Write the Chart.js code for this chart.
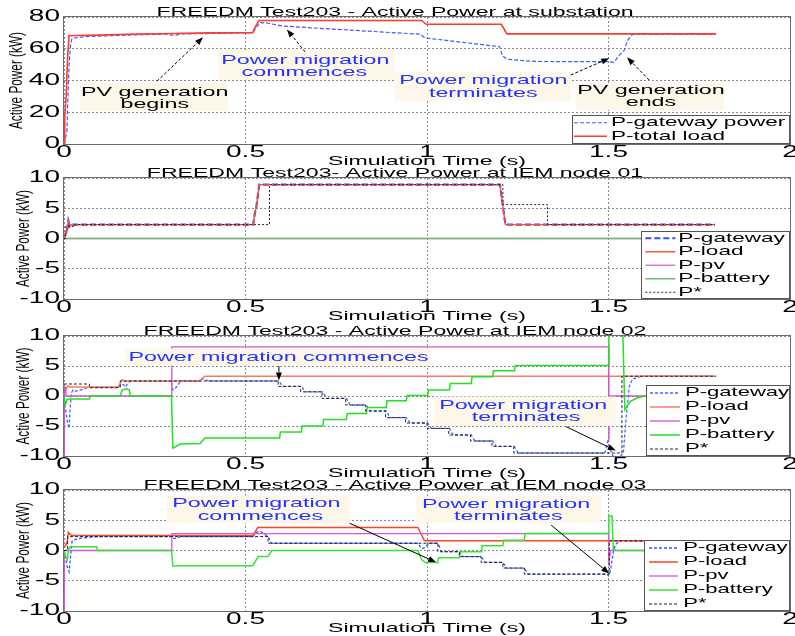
<!DOCTYPE html>
<html>
<head>
<meta charset="utf-8">
<script src="https://cdn.jsdelivr.net/npm/chart.js@4.4.1/dist/chart.umd.min.js"></script>
<style>
html, body { margin: 0; padding: 0; background: #fff; width: 795px; height: 636px; overflow: hidden; }
body { position: relative; }
canvas { position: absolute; left: 0; }
</style>
</head>
<body>
<canvas id="c1"></canvas>
<canvas id="c2"></canvas>
<canvas id="c3"></canvas>
<canvas id="c4"></canvas>
<script>
// ---------------- Labels ----------------
const panelTitles = [
  'FREEDM Test203 - Active Power at substation',
  'FREEDM Test203- Active Power at IEM node 01',
  'FREEDM Test203 - Active Power at IEM node 02',
  'FREEDM Test203 - Active Power at IEM node 03'
];
const xAxisTitle = 'Simulation Time (s)';
const yAxisTitle = 'Active Power (kW)';
const xTickLabels = ['0', '0.5', '1', '1.5', '2'];
const subYTickLabels = ['0', '20', '40', '60', '80'];
const nodeYTickLabels = ['-10', '-5', '0', '5', '10'];
const subSeriesNames = ['P-gateway power', 'P-total load'];
const nodeSeriesNames = ['P-gateway', 'P-load', 'P-pv', 'P-battery', 'P*'];

// ---------------- Substation (kW) ----------------
const subGatewayT = [0, 0.004, 0.008, 0.011, 0.014, 0.018, 0.022, 0.05, 0.1, 0.2, 0.28, 0.305, 0.32, 0.4, 0.5, 0.52, 0.54, 0.56, 0.6, 0.7, 0.8, 0.9, 0.98, 0.995, 1.1, 1.2, 1.208, 1.222, 1.26, 1.3, 1.4, 1.5, 1.515, 1.53, 1.543, 1.553, 1.567, 1.796];
const subGateway  = [0, 3, 8, 30, 50, 62, 66.5, 67.5, 68, 68.8, 69.2, 68.3, 69.3, 69.6, 70.0, 70.2, 76.5, 76.2, 74.4, 72.9, 71.6, 70.2, 69.2, 66.8, 64.0, 61.3, 55.5, 53.4, 52.6, 52.0, 51.9, 51.9, 51.5, 56, 59, 65.5, 69.2, 69.2];
const subLoadT = [0, 0.002, 0.006, 0.010, 0.014, 0.03, 0.1, 0.15, 0.2, 0.3, 0.4, 0.52, 0.524, 0.537, 0.985, 0.998, 1.205, 1.22, 1.796];
const subLoad  = [0, 17, 30, 55, 68.2, 68.3, 68.6, 69.0, 69.2, 69.6, 70.0, 70.1, 72.5, 77.8, 77.8, 75.4, 75.4, 69.4, 69.4];

// ---------------- IEM node 01 (kW) ----------------
const n1GatewayT = [0, 0.004, 0.008, 0.012, 0.016, 0.022, 0.521, 0.526, 0.530, 0.538, 1.201, 1.216, 1.793];
const n1Gateway  = [0, 0.8, 1.1, 2.9, 2.0, 2.3, 2.3, 4.2, 5.3, 8.9, 8.9, 2.3, 2.3];
const n1LoadT = [0, 0.003, 0.008, 0.012, 0.017, 0.022, 0.521, 0.526, 0.530, 0.538, 1.201, 1.216, 1.793];
const n1Load  = [0, 0.9, 1.0, 2.9, 2.1, 2.3, 2.3, 4.2, 5.3, 8.9, 8.9, 2.3, 2.3];
const n1PvT = [0, 1.8];
const n1Pv  = [0, 0];
const n1BatteryT = [0, 1.8];
const n1Battery  = [0, 0];
const n1RefT = [0, 0.005, 0.03, 0.566, 1.209, 1.332, 1.793];
const n1Ref  = [0, 2.0, 2.3, 8.9, 5.6, 2.3, 2.3];

// ---------------- IEM node 02 (kW) ----------------
const n2GatewayT = [0, 0.005, 0.01, 0.014, 0.017, 0.02, 0.025, 0.03, 0.045, 0.06, 0.07, 0.15, 0.156, 0.163, 0.17, 0.176, 0.185, 0.296, 0.3, 0.31, 0.318, 0.325, 0.37, 0.38, 0.39, 0.4,
  0.592, 0.602, 0.654, 0.664, 0.713, 0.723, 0.778, 0.788, 0.833, 0.843, 0.888, 0.898, 0.943, 0.953, 1.002, 1.012, 1.062, 1.072, 1.122, 1.132, 1.181, 1.191, 1.241, 1.251,
  1.49, 1.498, 1.505, 1.512, 1.53, 1.541, 1.548, 1.557, 1.566, 1.585, 1.6, 1.79];
const n2Gateway  = [-1.5, -2.5, -4.5, -5.4, -2, 0.5, 1.0, 0.8, 1.0, 1.3, 1.4, 1.4, 2.0, 1.9, 1.5, 2.2, 2.5, 2.5, 1.0, 1.5, 2.2, 2.5, 2.5, 2.9, 2.7, 2.5,
  2.5, 1.6, 1.6, 0.7, 0.7, -0.4, -0.4, -1.5, -1.5, -2.5, -2.5, -3.6, -3.6, -4.5, -4.5, -5.4, -5.4, -6.5, -6.5, -7.5, -7.5, -8.4, -8.4, -9.5,
  -9.5, -7.6, -8.9, -10, -10.2, -9.5, -4.0, 1.5, 2.8, 3.2, 3.3, 3.3];
const n2LoadT = [0, 0.004, 0.011, 0.016, 0.15, 0.156, 0.16, 0.166, 0.372, 0.388, 1.796];
const n2Load  = [0.1, 0.9, 1.7, 1.5, 1.5, 2.3, 2.7, 2.5, 2.5, 3.3, 3.3];
const n2PvT = [0, 0.001, 0.004, 0.006, 0.296, 0.297, 1.5, 1.501, 1.503, 1.8];
const n2Pv  = [-10, 1.5, 1.5, 0, 0, 8.2, 8.2, -7.6, 0, 0];
const n2BatteryT = [0, 0.004, 0.008, 0.014, 0.07, 0.072, 0.155, 0.16, 0.172, 0.18, 0.182, 0.296, 0.3, 0.32, 0.375, 0.388,
  0.594, 0.596, 0.654, 0.656, 0.713, 0.715, 0.778, 0.78, 0.833, 0.835, 0.888, 0.89, 0.943, 0.945, 1.002, 1.004, 1.062, 1.064, 1.122, 1.124, 1.181, 1.183, 1.241, 1.243,
  1.5, 1.501, 1.538, 1.545, 1.56, 1.58, 1.6, 1.8];
const n2Battery  = [0, -1.5, -0.6, -0.5, -0.5, 0, 0, 1.0, 1.2, 1.0, 0, 0, -8.7, -8.0, -7.9, -7.0,
  -7.0, -6.0, -6.0, -5.0, -5.0, -3.9, -3.9, -2.9, -2.9, -1.9, -1.9, -0.8, -0.8, 0.1, 0.1, 1.0, 1.0, 2.1, 2.1, 3.2, 3.2, 4.2, 4.2, 5.1,
  5.1, 14, 14, -2.3, -0.9, -0.3, 0, 0];
const n2RefT = [0, 0.07, 0.155, 0.59, 0.652, 0.711, 0.776, 0.831, 0.886, 0.941, 1.0, 1.06, 1.12, 1.179, 1.239, 1.537, 1.796];
const n2Ref  = [2.0, 1.4, 2.5, 1.6, 0.7, -0.4, -1.5, -2.5, -3.6, -4.5, -5.4, -6.5, -7.5, -8.4, -9.5, 3.3, 3.3];

// ---------------- IEM node 03 (kW) ----------------
const n3GatewayT = [0, 0.004, 0.008, 0.014, 0.018, 0.022, 0.03, 0.044, 0.07, 0.1, 0.296, 0.3, 0.31, 0.32, 0.52, 0.53, 0.54, 0.55, 0.562, 0.572,
  0.975, 0.985, 0.995, 1.005, 1.03, 1.04, 1.089, 1.099, 1.149, 1.159, 1.209, 1.219, 1.268, 1.278, 1.495, 1.5, 1.505, 1.51, 1.515, 1.52, 1.53, 1.79];
const n3Gateway  = [0, -1, -2.5, -3.5, -1, 1.5, 1.8, 2.0, 2.2, 2.3, 2.3, 2.0, 2.0, 2.3, 2.3, 3.0, 3.2, 2.8, 2.3, 1.2,
  1.2, 0.3, 0.5, 1.2, 1.2, -0.2, -0.2, -1.0, -1.0, -1.95, -1.95, -2.9, -2.9, -3.9, -3.9, -4.2, -3.5, -1.5, 0.3, 1.0, 1.6, 1.6];
const n3LoadT = [0, 0.005, 0.009, 0.012, 0.018, 0.025, 0.52, 0.534, 0.975, 0.993, 1.796];
const n3Load  = [0.5, 0.9, 1.5, 3.0, 2.6, 2.5, 2.5, 3.8, 3.8, 1.6, 1.6];
const n3PvT = [0, 0.001, 0.296, 0.297, 1.5, 1.501, 1.505, 1.8];
const n3Pv  = [-10, 0, 0, 2.8, 2.8, -2.4, 0, 0];
const n3BatteryT = [0, 0.005, 0.009, 0.013, 0.017, 0.09, 0.092, 0.296, 0.3, 0.31, 0.52, 0.535, 0.545, 0.562, 0.572,
  0.975, 0.985, 0.995, 1.03, 1.032, 1.089, 1.091, 1.149, 1.151, 1.209, 1.211, 1.268, 1.27, 1.5, 1.501, 1.51, 1.513, 1.52, 1.8];
const n3Battery  = [0, -1.0, -1.5, 0.2, 0.6, 0.6, 0, 0, -2.6, -2.5, -2.5, -1.0, -1.0, -1.0, 0,
  0, -1.5, -2.0, -2.0, -1.2, -1.2, -0.2, -0.2, 0.8, 0.8, 1.7, 1.7, 2.8, 2.8, 5.7, 5.7, 0.2, 0, 0];
const n3RefT = [0, 0.01, 0.562, 1.03, 1.089, 1.149, 1.209, 1.268, 1.502, 1.796];
const n3Ref  = [0, 2.3, 1.2, -0.2, -1.0, -1.95, -2.9, -3.9, 1.6, 1.6];

// ---------------- Rendering setup ----------------
const FONT = '"Liberation Sans", Arial, Helvetica, sans-serif';
const SX = 1.75;          // horizontal stretch of the original figure's lettering
const SX_ROT = 1.5;       // stretch applied to rotated (vertical) lettering
const TITLE_SIZE = 13.2;
const TITLE_PB = -2.2;
const TITLE_H = TITLE_SIZE + TITLE_PB;
const XAXIS_H = 24;

function stretchCtx(ctx) {
  if (ctx.__stretched) return;
  const orig = ctx.fillText;
  ctx.fillText = function (text, x, y, maxWidth) {
    const M = ctx.getTransform();
    const call = () => (maxWidth === undefined ? orig.call(ctx, text, x, y) : orig.call(ctx, text, x, y, maxWidth));
    const rotated = Math.abs(M.b) > 1e-6 || Math.abs(M.c) > 1e-6;
    const k = rotated ? SX_ROT : SX;
    const px = M.a * x + M.c * y + M.e;
    const py = M.b * x + M.d * y + M.f;
    const S = new DOMMatrix().translate(px, py).scale(k, 1).translate(-px, -py);
    ctx.setTransform(S.multiply(M));
    call();
    ctx.setTransform(M);
  };
  ctx.__stretched = true;
}

function zip(ts, vs) { return ts.map((t, i) => ({ x: t, y: vs[i] })); }

function drawArrow(ctx, x0, y0, x1, y1, dashed) {
  ctx.save();
  ctx.strokeStyle = '#000'; ctx.fillStyle = '#000'; ctx.lineWidth = 1;
  const ang = Math.atan2(y1 - y0, x1 - x0);
  const hl = 8, hw = 3;
  const bx = x1 - hl * Math.cos(ang), by = y1 - hl * Math.sin(ang);
  if (dashed) ctx.setLineDash([3, 2]);
  ctx.beginPath(); ctx.moveTo(x0, y0); ctx.lineTo(bx, by); ctx.stroke();
  ctx.setLineDash([]);
  ctx.beginPath();
  ctx.moveTo(x1, y1);
  ctx.lineTo(bx + hw * Math.sin(ang), by - hw * Math.cos(ang));
  ctx.lineTo(bx - hw * Math.sin(ang), by + hw * Math.cos(ang));
  ctx.closePath(); ctx.fill();
  ctx.restore();
}

function panelPlugin(P) {
  return {
    id: 'panel',
    beforeInit(chart) { stretchCtx(chart.ctx); },
    beforeDatasetsDraw(chart) {
      const { ctx, chartArea: a } = chart;
      ctx.save();
      ctx.strokeStyle = '#6b6b6b'; ctx.lineWidth = 1;
      const l = Math.round(a.left) - 0.5, t = Math.round(a.top) - 0.5;
      ctx.strokeRect(l, t, Math.round(a.right) - Math.round(a.left) + 1, Math.round(a.bottom) - Math.round(a.top) + 1);
      ctx.restore();
    },
    afterDatasetsDraw(chart) {
      const { ctx, chartArea: a } = chart;
      const xs = chart.scales.x, ys = chart.scales.y;
      const X = v => xs.getPixelForValue(v), Y = v => ys.getPixelForValue(v);
      ctx.save();
      // annotations
      (P.notes || []).forEach(n => {
        ctx.fillStyle = '#fdf7ea';
        const bx0 = X(n.box[0]), by0 = Y(n.box[3]), bx1 = X(n.box[2]), by1 = Y(n.box[1]);
        ctx.fillRect(bx0, by0, bx1 - bx0, by1 - by0);
      });
      (P.notes || []).forEach(n => {
        ctx.font = '13.3px ' + FONT;
        ctx.fillStyle = n.color;
        ctx.textAlign = 'center';
        ctx.textBaseline = 'middle';
        n.lines.forEach(ln => ctx.fillText(ln[0], X(ln[1]), Y(ln[2])));
        drawArrow(ctx, X(n.arrow[0]), Y(n.arrow[1]), X(n.arrow[2]), Y(n.arrow[3]), n.dashed);
      });
      // legend
      const L = P.legend;
      const x0 = Math.round(a.right - L.w), y0 = Math.round(a.bottom - L.h);
      ctx.fillStyle = '#fff';
      ctx.fillRect(x0, y0, L.w, L.h);
      ctx.strokeStyle = '#555'; ctx.lineWidth = 1;
      ctx.strokeRect(x0 + 0.5, y0 + 0.5, L.w - 1, L.h - 1);
      chart.data.datasets.forEach((ds, i) => {
        const y = y0 + L.pad + L.rowH * (i + 0.5);
        ctx.strokeStyle = ds.borderColor; ctx.lineWidth = ds.borderWidth;
        ctx.setLineDash(ds.borderDash || []);
        ctx.beginPath(); ctx.moveTo(x0 + L.lx0, y); ctx.lineTo(x0 + L.lx1, y); ctx.stroke();
        ctx.setLineDash([]);
        ctx.fillStyle = '#000';
        ctx.font = L.font + 'px ' + FONT;
        ctx.textAlign = 'left'; ctx.textBaseline = 'middle';
        ctx.fillText(ds.label, x0 + L.tx, y);
      });
      ctx.restore();
    }
  };
}

function buildChart(id, P) {
  const cv = document.getElementById(id);
  const top = P.plotTop - TITLE_H;
  const h = P.plotBottom + XAXIS_H - top;
  cv.width = 795; cv.height = Math.round(h);
  cv.style.top = top + 'px';
  cv.style.width = '795px'; cv.style.height = Math.round(h) + 'px';
  const gridOpts = { color: '#8a8a8a', lineWidth: 1, drawTicks: false };
  const borderOpts = { display: false, dash: [2, 2] };
  return new Chart(cv, {
    type: 'line',
    data: {
      datasets: P.series.map((s, i) => ({
        label: s.name, data: zip(s.t, s.v),
        borderColor: s.color, borderWidth: s.width, borderDash: s.dash || [],
        stepped: s.stepped || false, pointRadius: 0, fill: false, tension: 0,
        order: -i, clip: { left: 2, top: 0, right: 0, bottom: 1 }
      }))
    },
    options: {
      responsive: false, animation: false, devicePixelRatio: 1, events: [],
      layout: { padding: { left: 0, right: 5, top: 0, bottom: 0 }, autoPadding: false },
      plugins: {
        legend: { display: false }, tooltip: { enabled: false },
        title: { display: true, text: P.title, color: '#000',
          font: { family: FONT, size: TITLE_SIZE, lineHeight: 1, weight: 'normal' },
          padding: { top: 0, bottom: TITLE_PB } }
      },
      scales: {
        x: {
          type: 'linear', min: 0, max: 2,
          afterFit: s => { s.height = XAXIS_H; s.paddingLeft = 0; s.paddingRight = 0; s.paddingTop = 0; s.paddingBottom = 0; },
          ticks: { stepSize: 0.5, autoSkip: false, maxRotation: 0, minRotation: 0, padding: 1, color: '#000',
            font: { family: FONT, size: 16, lineHeight: 1 }, callback: (v, i) => xTickLabels[i] },
          grid: gridOpts, border: borderOpts,
          title: { display: true, text: xAxisTitle, color: '#000', font: { family: FONT, size: 13.2, lineHeight: 1 }, padding: 0 }
        },
        y: {
          type: 'linear', min: P.yMin, max: P.yMax,
          afterFit: s => { s.width = 64; s.paddingTop = 0; s.paddingBottom = 0; s.paddingLeft = 0; s.paddingRight = 0; },
          ticks: { stepSize: P.yStep, autoSkip: false, padding: 4, color: '#000',
            font: { family: FONT, size: 16, lineHeight: 1 }, callback: (v, i) => P.yTicks[i] },
          grid: gridOpts, border: borderOpts,
          title: { display: true, text: yAxisTitle, color: '#000', font: { family: FONT, size: 11.8, lineHeight: 1 },
            padding: { top: P.yTitleOffset, bottom: 0 } }
        }
      }
    },
    plugins: [panelPlugin(P)]
  });
}

// ---------------- Panels ----------------
buildChart('c1', {
  title: panelTitles[0], plotTop: 17, plotBottom: 144, yMin: 0, yMax: 80, yStep: 20, yTicks: subYTickLabels, yTitleOffset: 11.5,
  series: [
    { name: subSeriesNames[0], t: subGatewayT, v: subGateway, color: '#3d5cff', width: 1.2, dash: [4, 2] },
    { name: subSeriesNames[1], t: subLoadT, v: subLoad, color: '#ff3b2e', width: 1.6 }
  ],
  legend: { w: 218, h: 29, pad: 1, rowH: 13.5, lx0: 2, lx1: 35, tx: 39, font: 12.9 },
  notes: [
    { box: [0.044, 20.8, 0.451, 38.4], lines: [['PV generation', 0.25, 32.8], ['begins', 0.25, 25.2]], color: '#000', arrow: [0.256, 39.5, 0.383, 67.2], dashed: true },
    { box: [0.424, 40.3, 0.911, 59.2], lines: [['Power migration', 0.665, 52.9], ['commences', 0.662, 45.4]], color: '#2233ff', arrow: [0.664, 58.1, 0.614, 72.2], dashed: true },
    { box: [0.911, 27.1, 1.397, 45.4], lines: [['Power migration', 1.155, 40.3], ['terminates', 1.155, 32.1]], color: '#2233ff', arrow: [1.396, 43.5, 1.502, 54.0], dashed: true },
    { box: [1.411, 21.4, 1.818, 38.4], lines: [['PV generation', 1.617, 34.0], ['ends', 1.617, 26.1]], color: '#000', arrow: [1.612, 40.3, 1.551, 54.6], dashed: true }
  ]
});

buildChart('c2', {
  title: panelTitles[1], plotTop: 178, plotBottom: 299, yMin: -10, yMax: 10, yStep: 5, yTicks: nodeYTickLabels, yTitleOffset: 18,
  series: [
    { name: nodeSeriesNames[0], t: n1GatewayT, v: n1Gateway, color: '#3050f0', width: 2.2, dash: [6, 3] },
    { name: nodeSeriesNames[1], t: n1LoadT, v: n1Load, color: '#ff4a30', width: 1.4 },
    { name: nodeSeriesNames[2], t: n1PvT, v: n1Pv, color: '#e070e0', width: 1.4 },
    { name: nodeSeriesNames[3], t: n1BatteryT, v: n1Battery, color: '#70c070', width: 1.6 },
    { name: nodeSeriesNames[4], t: n1RefT, v: n1Ref, color: '#222', width: 1, dash: [2, 2], stepped: true }
  ],
  legend: { w: 149, h: 68, pad: 0.5, rowH: 13.5, lx0: 4.3, lx1: 34.3, tx: 37.3, font: 12.9 }
});

buildChart('c3', {
  title: panelTitles[2], plotTop: 336, plotBottom: 456, yMin: -10, yMax: 10, yStep: 5, yTicks: nodeYTickLabels, yTitleOffset: 18,
  series: [
    { name: nodeSeriesNames[0], t: n2GatewayT, v: n2Gateway, color: '#4466ff', width: 1.3, dash: [3, 2] },
    { name: nodeSeriesNames[1], t: n2LoadT, v: n2Load, color: '#ff7a66', width: 1.5 },
    { name: nodeSeriesNames[2], t: n2PvT, v: n2Pv, color: '#cc55cc', width: 1.3 },
    { name: nodeSeriesNames[3], t: n2BatteryT, v: n2Battery, color: '#22e022', width: 1.5 },
    { name: nodeSeriesNames[4], t: n2RefT, v: n2Ref, color: '#222', width: 1, dash: [3, 2], stepped: true }
  ],
  legend: { w: 144, h: 71, pad: 1, rowH: 14, lx0: 4, lx1: 34, tx: 39, font: 12.6 },
  notes: [
    { box: [0.168, 5.1, 1.012, 7.9], lines: [['Power migration commences', 0.591, 6.4]], color: '#2233ff', arrow: [0.592, 5.0, 0.592, 2.6], dashed: false },
    { box: [1.020, -5.0, 1.520, -0.1], lines: [['Power migration', 1.265, -1.5], ['terminates', 1.273, -3.6]], color: '#2233ff', arrow: [1.383, -5.1, 1.520, -9.1], dashed: false }
  ]
});

buildChart('c4', {
  title: panelTitles[3], plotTop: 490, plotBottom: 611, yMin: -10, yMax: 10, yStep: 5, yTicks: nodeYTickLabels, yTitleOffset: 18,
  series: [
    { name: nodeSeriesNames[0], t: n3GatewayT, v: n3Gateway, color: '#3355ff', width: 1.3, dash: [3, 2] },
    { name: nodeSeriesNames[1], t: n3LoadT, v: n3Load, color: '#ff4422', width: 1.5 },
    { name: nodeSeriesNames[2], t: n3PvT, v: n3Pv, color: '#dd55dd', width: 1.3 },
    { name: nodeSeriesNames[3], t: n3BatteryT, v: n3Battery, color: '#33e633', width: 1.5 },
    { name: nodeSeriesNames[4], t: n3RefT, v: n3Ref, color: '#222', width: 1, dash: [3, 2], stepped: true }
  ],
  legend: { w: 146, h: 71, pad: 1, rowH: 14, lx0: 5, lx1: 34, tx: 39.3, font: 12.6 },
  notes: [
    { box: [0.283, 4.5, 0.787, 9.06], lines: [['Power migration', 0.530, 7.8], ['commences', 0.541, 5.6]], color: '#2233ff', arrow: [0.787, 4.5, 1.025, -1.95], dashed: false },
    { box: [0.970, 4.5, 1.479, 9.0], lines: [['Power migration', 1.218, 7.7], ['terminates', 1.224, 5.6]], color: '#2233ff', arrow: [1.342, 4.2, 1.502, -3.8], dashed: false }
  ]
});
</script>
</body>
</html>
